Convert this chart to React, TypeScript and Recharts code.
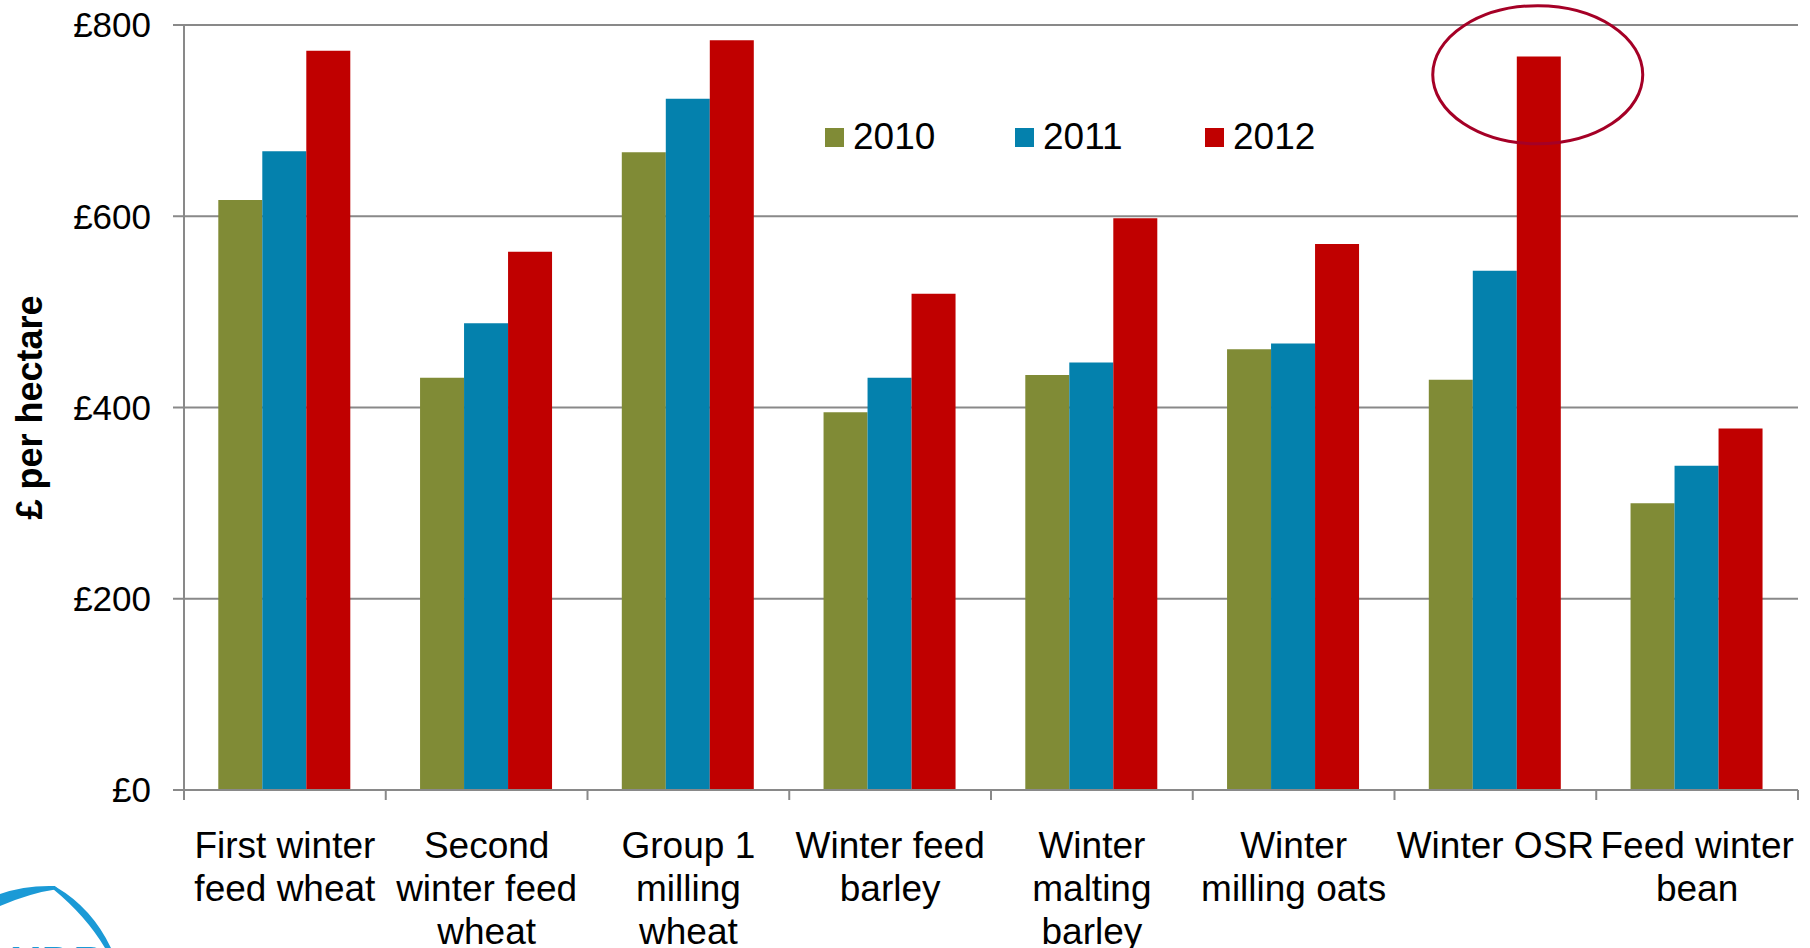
import React from 'react';
import { BarChart, Bar, XAxis, YAxis, CartesianGrid, ReferenceDot, Label } from 'recharts';

// crop categories (line breaks as on the original slide)
const crops = [
  'First winter\nfeed wheat',
  'Second\nwinter feed\nwheat',
  'Group 1\nmilling\nwheat',
  'Winter feed\nbarley',
  'Winter\nmalting\nbarley',
  'Winter\nmilling oats',
  'Winter OSR',
  'Feed winter\nbean',
];
const years = ['2010', '2011', '2012'];
const margin2010 = [617, 431, 667, 395, 434, 461, 429, 300];
const margin2011 = [668, 488, 723, 431, 447, 467, 543, 339];
const margin2012 = [773, 563, 784, 519, 598, 571, 767, 378];
const yTicks = [0, 200, 400, 600, 800];
const highlight = { crop: 'Winter OSR', value: 748 };

const colors = ['#808B36', '#0481AD', '#C00000'];
const FONT = '"Liberation Sans", Arial, sans-serif';
const W = 1810;
const H = 948;
const AXIS_W = 184;
const RIGHT = 12;
const bandWidth = (W - AXIS_W - RIGHT) / crops.length;

const data = crops.map((c, i) => ({
  crop: c,
  y2010: margin2010[i],
  y2011: margin2011[i],
  y2012: margin2012[i],
}));
const keys = ['y2010', 'y2011', 'y2012'];

const CropTick = (props: any) => {
  const { x, y, payload, index } = props;
  const lines = String(payload.value).split('\n');
  const left = x - bandWidth / 2;
  const right = x + bandWidth / 2;
  return (
    <g>
      <line x1={left} x2={left} y1={y} y2={y + 10} stroke="#898989" strokeWidth={2} />
      {index === crops.length - 1 && (
        <line x1={right} x2={right} y1={y} y2={y + 10} stroke="#898989" strokeWidth={2} />
      )}
      <text x={x} y={y + 68} textAnchor="middle" fontSize={37} fill="#000" fontFamily={FONT}>
        {lines.map((l, i) => (
          <tspan key={i} x={x} dy={i === 0 ? 0 : 43}>{l}</tspan>
        ))}
      </text>
    </g>
  );
};

const YTitle = (props: any) => {
  const vb = props.viewBox || { x: 0, y: 0, height: 0 };
  const cx = 29;
  const cy = vb.y + vb.height / 2;
  return (
    <text x={cx} y={cy} transform={`rotate(-90, ${cx}, ${cy})`} textAnchor="middle"
      dominantBaseline="central" fontSize={36} fontWeight="bold" fill="#000" fontFamily={FONT}>
      £ per hectare
    </text>
  );
};

const Ring = (props: any) => {
  const { cx, cy } = props;
  // ring is drawn around the 2012 bar of the group
  return <ellipse cx={cx + bandWidth * 0.21} cy={cy} rx={105} ry={69} fill="none" stroke="#A50026" strokeWidth={3} />;
};

export default function App() {
  return (
    <div style={{ position: 'fixed', left: 0, top: 0, width: W, height: H, background: '#fff', fontFamily: FONT, overflow: 'hidden' }}>
      <BarChart width={W} height={H} data={data} margin={{ top: 25, right: RIGHT, bottom: 0, left: 0 }}
        barCategoryGap="17%" barGap={0}>
        <CartesianGrid vertical={false} stroke="#898989" strokeWidth={2} />
        <XAxis dataKey="crop" height={158} interval={0} tick={<CropTick />} tickLine={false}
          tickSize={0} tickMargin={0} axisLine={{ stroke: '#898989', strokeWidth: 2 }} />
        <YAxis width={AXIS_W} domain={[0, 800]} ticks={yTicks} tickFormatter={(v) => `£${v}`}
          tick={{ fontSize: 35, fill: '#000', fontFamily: FONT }} tickSize={11} tickMargin={22}
          tickLine={{ stroke: '#898989', strokeWidth: 2 }} axisLine={{ stroke: '#898989', strokeWidth: 2 }}>
          <Label content={<YTitle />} />
        </YAxis>
        {keys.map((k, i) => (
          <Bar key={k} dataKey={k} name={years[i]} fill={colors[i]} isAnimationActive={false} />
        ))}
        <ReferenceDot x={highlight.crop} y={highlight.value} ifOverflow="visible" shape={<Ring />} />
      </BarChart>

      {/* legend */}
      <div style={{ position: 'absolute', left: 825, top: 115, display: 'flex', alignItems: 'center' }}>
        {years.map((yr, i) => (
          <div key={yr} style={{ display: 'flex', alignItems: 'center', width: 190 }}>
            <span style={{ width: 19, height: 19, background: colors[i], display: 'inline-block', marginRight: 9 }} />
            <span style={{ fontSize: 37, lineHeight: '44px', color: '#000' }}>{yr}</span>
          </div>
        ))}
      </div>

      {/* partial logo in the corner, cut by the page edge */}
      <svg width={330} height={70} style={{ position: 'absolute', left: 0, top: 878 }}>
        <path d="M0,16 Q25,7 55,8 L58,11 Q30,15 0,28 Z" fill="#1B9AD6" />
        <path d="M56,9 Q92,30 111,70 L105,70 Q86,38 53,11 Z" fill="#1B9AD6" />
        <text x={-22} y={100} fontSize={44} fontWeight="bold" fill="#1B9AD6" fontFamily={FONT}>AHDB</text>
      </svg>
    </div>
  );
}
